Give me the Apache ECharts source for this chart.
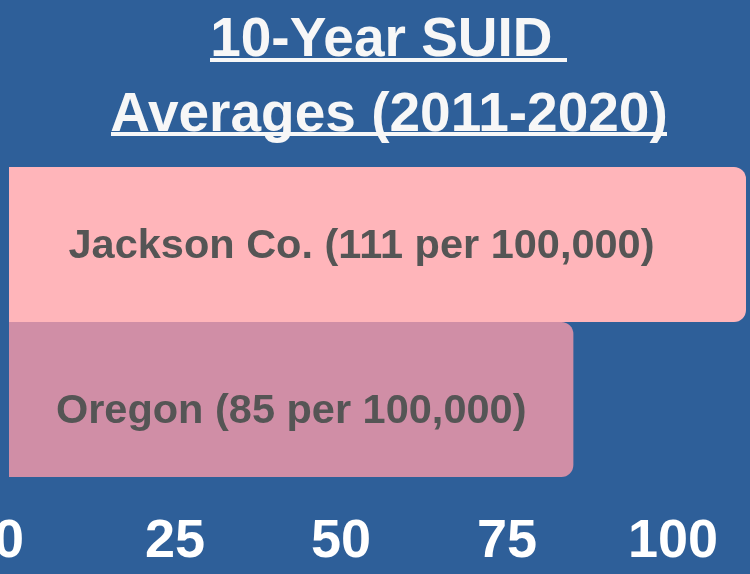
<!DOCTYPE html>
<html>
<head>
<meta charset="utf-8">
<script src="https://cdn.jsdelivr.net/npm/echarts@6/dist/echarts.min.js"></script>
<style>
html,body{margin:0;padding:0;background:#2e5f99}
#main{width:750px;height:574px}
</style>
</head>
<body>
<div id="main"></div>
<script>
// data
const regions=['Jackson Co.','Oregon']
const rates=[111,85]
const barColors=['#ffb5ba','#d08ea6']
const xTicks=[0,25,50,75,100]

const myChart=echarts.init(document.querySelector('#main'))
const font='"Liberation Sans", Arial, sans-serif'

const option={
  backgroundColor:'#2e5f99',
  title:{
    text:'10-Year SUID \nAverages (2011-2020)',
    left:384,
    top:-2,
    textAlign:'center',
    textStyle:{
      color:'#f7f7f7',
      fontSize:55,
      fontWeight:'bold',
      fontFamily:font,
      lineHeight:75
    }
  },
  // underline for the title
  graphic:[
    {type:'rect',shape:{x:210,y:58,width:357,height:4},style:{fill:'#f7f7f7'}},
    {type:'rect',shape:{x:111,y:132,width:556,height:4},style:{fill:'#f7f7f7'}}
  ],
  grid:{left:9,right:4,top:167,bottom:97,containLabel:false,outerBoundsMode:'none'},
  xAxis:{
    type:'value',
    min:0,
    max:111,
    interval:25,
    splitLine:{show:false},
    axisLine:{show:false},
    axisTick:{show:false},
    axisLabel:{
      color:'#ffffff',
      fontSize:54,
      fontWeight:'bold',
      fontFamily:font,
      margin:38,
      showMaxLabel:false,
      formatter:v=>xTicks.includes(v)?String(v):''
    }
  },
  yAxis:{
    type:'category',
    inverse:true,
    data:regions,
    show:false
  },
  series:[
    {
      type:'bar',
      barWidth:'100%',
      data:rates.map((v,i)=>({
        value:v,
        itemStyle:{color:barColors[i]},
        label:{offset:i===0?[-16,2]:[0,12]}
      })),
      itemStyle:{borderRadius:[0,12,12,0]},
      label:{
        show:true,
        position:'inside',
        color:'#555555',
        fontSize:41.5,
        fontWeight:'bold',
        fontFamily:font,
        formatter:p=>`${p.name} (${p.value} per 100,000)`
      }
    }
  ]
}
myChart.setOption(option)
</script>
</body>
</html>
